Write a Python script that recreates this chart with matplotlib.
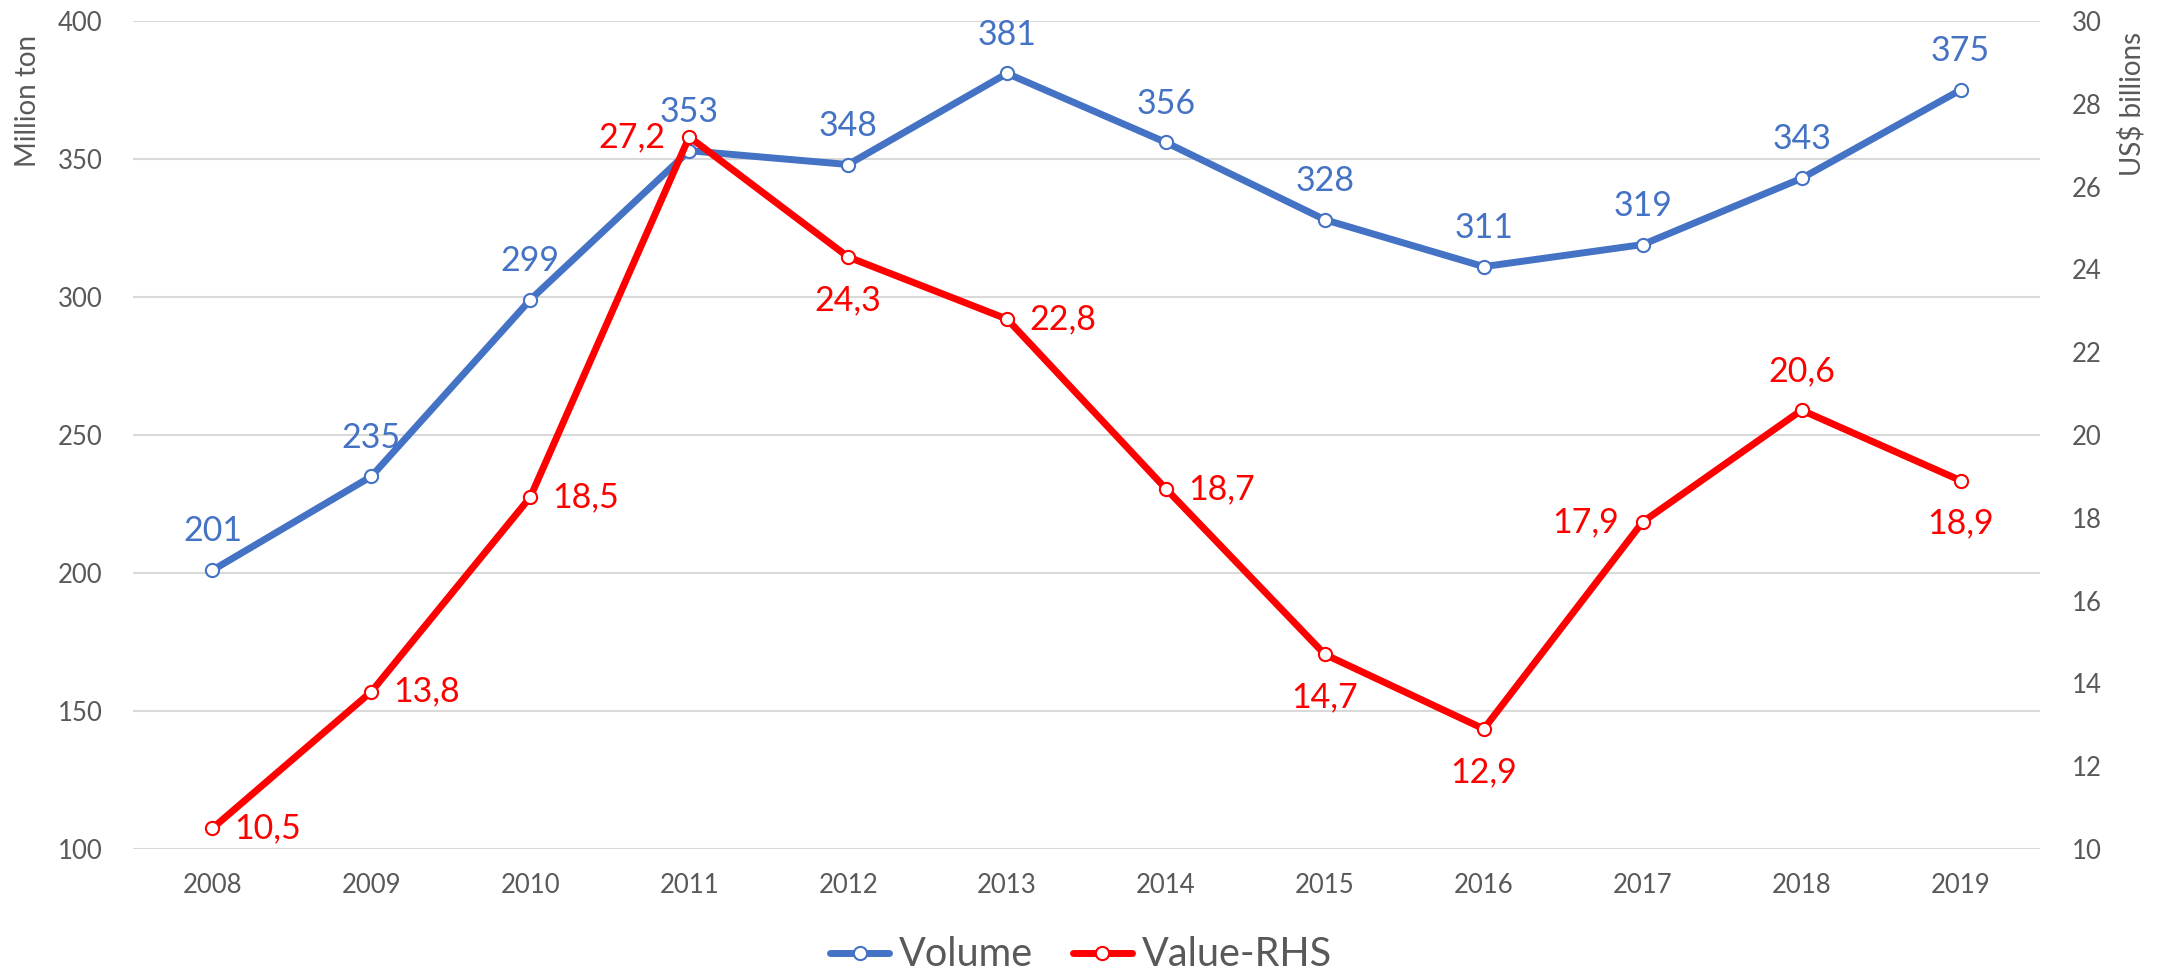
import matplotlib.pyplot as plt
import numpy as np

plt.rcParams['font.family'] = ['Lato', 'DejaVu Sans']

years = ['2008', '2009', '2010', '2011', '2012', '2013', '2014', '2015', '2016', '2017', '2018', '2019']
volume = [201, 235, 299, 353, 348, 381, 356, 328, 311, 319, 343, 375]
value_rhs = [10.5, 13.8, 18.5, 27.2, 24.3, 22.8, 18.7, 14.7, 12.9, 17.9, 20.6, 18.9]
# where each red label sits relative to its point
value_label_pos = ['right', 'right', 'right', 'left', 'below', 'right', 'right',
                   'below', 'below', 'left', 'above', 'below']

blue = '#4472C4'
red = '#FF0000'
grey_text = '#595959'

W, H = 2167, 975
fig = plt.figure(figsize=(W / 100, H / 100), dpi=100)
ax = fig.add_axes([133 / W, 1 - 849 / H, (2040 - 133) / W, (849 - 21) / H])
ax2 = ax.twinx()

x = np.arange(len(years))

ax.plot(x, volume, color=blue, lw=5, marker='o', ms=9.5, mfc='white', mec=blue, mew=1.5,
        label='Volume', solid_capstyle='round', zorder=3)
ax2.plot(x, value_rhs, color=red, lw=5, marker='o', ms=9.5, mfc='white', mec=red, mew=1.5,
         label='Value-RHS', solid_capstyle='round', zorder=3)

# data labels
for xi, v in zip(x, volume):
    ax.annotate(str(v), (xi, v), xytext=(0, 28), textcoords='offset points',
                ha='center', va='center', color=blue, fontsize=24.5)

offsets = {'right': ((16, 0), 'left'), 'left': ((-17, 0), 'right'),
           'above': ((0, 28), 'center'), 'below': ((0, -31), 'center')}
for xi, v, pos in zip(x, value_rhs, value_label_pos):
    off, ha = offsets[pos]
    ax2.annotate(f'{v:.1f}'.replace('.', ','), (xi, v), xytext=off, textcoords='offset points',
                 ha=ha, va='center', color=red, fontsize=24.5)

ax.set_xlim(-0.5, len(years) - 0.5)
ax.set_ylim(100, 400)
ax.set_yticks(np.arange(100, 401, 50))
ax2.set_ylim(10, 30)
ax2.set_yticks(np.arange(10, 31, 2))
ax.set_xticks(x)
ax.set_xticklabels(years)

ax.grid(axis='y', color='#D9D9D9', lw=1.5)
ax.set_axisbelow(True)
for a in (ax, ax2):
    for s in a.spines.values():
        s.set_visible(False)
ax.tick_params(axis='y', length=0, pad=22, labelsize=18.5, labelcolor=grey_text)
ax.tick_params(axis='x', length=0, pad=17, labelsize=18.5, labelcolor=grey_text)
ax2.tick_params(axis='y', length=0, pad=23, labelsize=18.5, labelcolor=grey_text)

fig.text(28 / W, 1 - 101 / H, 'Million ton', rotation=90, ha='center', va='center',
         fontsize=20, color=grey_text)
fig.text(2132 / W, 1 - 104 / H, 'US$ billions', rotation=90, ha='center', va='center',
         fontsize=20, color=grey_text)

h1, l1 = ax.get_legend_handles_labels()
h2, l2 = ax2.get_legend_handles_labels()
fig.legend(h1 + h2, l1 + l2, loc='center', bbox_to_anchor=(1081 / W, 1 - 955 / H), ncol=2,
           frameon=False, fontsize=28.5, labelcolor=grey_text, handlelength=1.5,
           handletextpad=0.25, columnspacing=1.0)

fig.savefig('out.png', dpi=100)
